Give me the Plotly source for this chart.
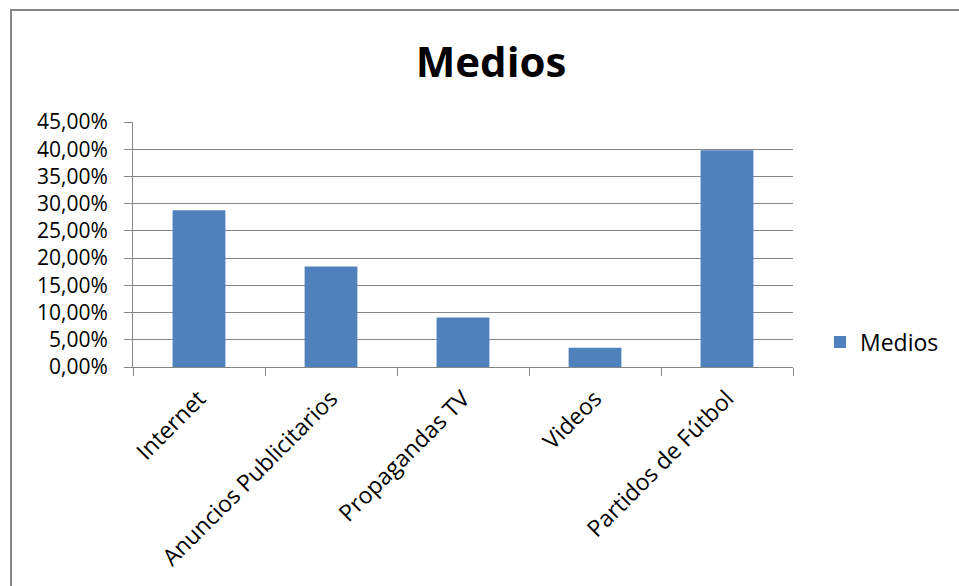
import plotly.graph_objects as go

categories = ["Internet", "Anuncios Publicitarios", "Propagandas TV", "Videos", "Partidos de Fútbol"]
values = [0.2877, 0.1848, 0.0911, 0.0355, 0.3980]
series_name = "Medios"
title_text = "Medios"

FONT = "Open Sans"
GRAY = "#868686"

fig = go.Figure()
fig.add_trace(go.Bar(
    x=categories, y=values, name=series_name,
    marker=dict(color="#4F81BD", line=dict(width=0)),
    showlegend=True,
))

L, R, T, B = 133, 166, 122, 219
pw = 959 - L - R
ph = 586 - T - B

fig.update_layout(
    width=959, height=586,
    margin=dict(l=L, r=R, t=T, b=B, autoexpand=False),
    paper_bgcolor="white", plot_bgcolor="white",
    separators=",.",
    bargap=0.6,
    font=dict(family=FONT, size=23, color="black"),
    title=dict(text="<b>" + title_text + "</b>", x=491 / 959, xanchor="center",
               y=1 - 62 / 586, yanchor="middle",
               font=dict(family=FONT, size=42, color="black")),
    legend=dict(x=(820 - L) / pw, y=(367 - 342) / ph, xanchor="left", yanchor="middle",
                font=dict(family=FONT, size=23, color="black"),
                bgcolor="rgba(0,0,0,0)", itemwidth=30),
    xaxis=dict(
        showgrid=False, showline=True, linecolor=GRAY, linewidth=1,
        ticks="outside", ticklen=8, tickcolor=GRAY, tickson="boundaries",
        tickangle=-45, ticklabelstandoff=8,
        tickfont=dict(family=FONT, size=23, color="black"),
        fixedrange=True,
    ),
    yaxis=dict(
        range=[0, 0.45], dtick=0.05, tick0=0, tickformat=".2%",
        showgrid=True, gridcolor=GRAY, gridwidth=1,
        showline=True, linecolor=GRAY, linewidth=1,
        ticks="outside", ticklen=8, tickcolor=GRAY,
        ticklabelstandoff=12,
        tickfont=dict(family=FONT, size=21, color="black"),
        zeroline=False, fixedrange=True,
    ),
    shapes=[dict(type="rect", xref="paper", yref="paper",
                 x0=(11 - L) / pw, x1=(1000 - L) / pw,
                 y0=(367 - 620) / ph, y1=(367 - 10) / ph,
                 line=dict(color=GRAY, width=2), fillcolor="rgba(0,0,0,0)", layer="below")],
)

fig.write_html("out.html")
